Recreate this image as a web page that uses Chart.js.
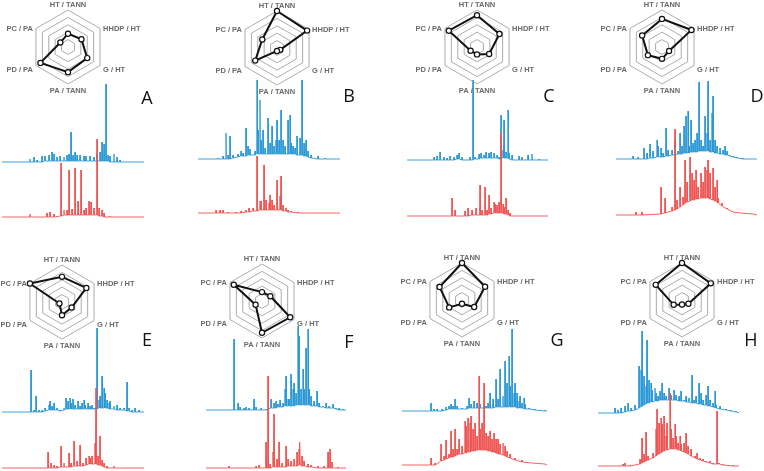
<!DOCTYPE html>
<html lang="en">
<head>
  <meta charset="UTF-8">
  <title>Radar plots and spectra A-H</title>
  <script src="https://cdn.jsdelivr.net/npm/chart.js"></script>
  <style>
    body { margin: 0; background: #fff; width: 764px; height: 471px; position: relative; overflow: hidden; }
    canvas { position: absolute; }
    .tag { position: absolute; font-family: "Open Sans", sans-serif; font-size: 18px; color: #111; line-height: 1; transform: translate(-50%, -50%); }
  </style>
</head>
<body>
<script>
// axes of the radar plots, clockwise from the top
const axisNames = ["HT / TANN", "HHDP / HT", "G / HT", "PA / TANN", "PD / PA", "PC / PA"];

// radar values (0-5), same order as axisNames
const radarA = [1.8, 2.1, 3.0, 3.4, 4.3, 1.2];
const radarB = [5.0, 4.7, 0.5, 0.4, 3.4, 2.3];
const radarC = [4.3, 3.5, 1.9, 1.0, 1.0, 4.4];
const radarD = [3.8, 4.6, 1.1, 1.6, 2.2, 3.1];
const radarE = [3.4, 3.8, 1.5, 1.8, 0.4, 5.0];
const radarF = [1.2, 1.3, 4.4, 4.3, 1.0, 4.4];
const radarG = [5.0, 3.6, 1.9, 0.5, 2.0, 3.5];
const radarH = [5.0, 4.5, 1.0, 0.6, 1.3, 4.1];

// spectra: [position, peak height, local baseline]
const blueA = [[0,0],[28,3],[32,5],[35,2],[40,6],[43,6,1],[47,7,1],[50,10,1],[52,8,1],[55,5,1],[58,6,1],[62,5,1],[65,7,1],[67,8,1],[69,30,1],[71,7,1],[73,10,1],[75,7,1],[78,7,1],[82,6,1],[84,6,1],[88,6,1],[92,5,1],[95,8,1],[98,10,1],[100,20,1],[102,18,1],[104,78,1],[106,7,1],[108,6],[112,8],[115,5],[118,2],[142,0]];
const redA = [[0,0],[28,3],[45,4],[48,5],[52,3],[59,54,1],[62,7,2],[65,7,2],[67,47,2],[70,8,2],[73,49,2],[76,16,2],[79,47,2],[82,7,2],[84,9,2],[87,16,2],[89,15,2],[92,9,2],[95,78,2],[97,9,1],[100,7,1],[102,4],[108,1],[142,0]];

const blueB = [[0,0],[20,1],[25,3],[28,26],[30,4],[32,23],[35,4,1],[40,5,2],[43,8,3],[45,6,3],[48,31,3],[50,13,4],[52,10,4],[57,8,4],[59,79,5],[60,29,5],[62,59,5],[63,19,5],[65,29,5],[67,11,5],[70,41,5],[72,16,5],[74,33,5],[76,13,5],[78,19,5],[79,39,5],[81,19,5],[83,49,5],[85,19,5],[87,13,5],[90,39,5],[92,44,5],[93,16,5],[95,13,5],[97,11,5],[99,23,4],[102,21,4],[104,79,4],[106,16,3],[108,19,3],[110,8,2],[113,4,1],[120,3],[127,1],[142,0]];
const redB = [[0,0],[18,3],[22,3],[25,3],[30,1],[38,1],[43,2],[48,3,1],[51,5,1],[55,5,2],[59,57,2],[62,12,3],[63,12,3],[66,48,3],[68,13,3],[71,10,3],[72,18,3],[74,13,3],[76,8,3],[79,33,3],[82,17,3],[83,37,3],[85,8,2],[88,5,2],[90,3,1],[93,2,1],[100,1],[142,0]];

const blueC = [[0,0],[27,3],[30,4],[33,8],[37,3],[40,2],[43,4],[47,3],[50,5,1],[52,7,1],[55,3],[63,3],[66,80],[68,3,1],[72,6,1],[74,7,2],[77,5,2],[79,8,2],[82,7,2],[84,8,2],[87,7,2],[90,5,2],[92,3,1],[94,45,1],[96,10,2],[97,40,2],[99,8,2],[101,50,2],[102,7,1],[105,5],[112,4],[115,3],[121,5],[125,6],[132,1],[141,0]];
const redC = [[0,0],[45,18],[48,6],[58,5],[61,8],[65,6,1],[69,8,1],[73,31,1],[75,6,1],[78,29,1],[80,6,1],[82,21,2],[84,8,2],[87,14,3],[88,12,3],[90,11,3],[92,14,3],[94,83,3],[96,12,3],[97,9,2],[99,18,2],[101,6,1],[103,3],[141,0]];

const blueD = [[0,0],[17,3],[22,2],[28,11],[31,6],[34,15,1],[37,8,1],[41,19,2],[42,13,2],[45,11,2],[47,6,2],[50,31,3],[52,9,3],[56,9,4],[59,19,4],[62,8,5],[64,26,5],[66,13,5],[68,33,6],[70,43,6],[72,48,6],[73,13,6],[75,39,7],[77,16,7],[79,19,7],[81,26,7],[83,77,8],[85,19,8],[87,13,8],[89,43,8],[91,26,8],[92,78,8],[94,19,7],[96,46,7],[97,63,7],[99,19,6],[101,13,6],[104,11,5],[107,9,5],[109,13,4],[111,8,4],[114,4,3],[117,3,2],[121,2,1],[127,1],[141,0]];
const redD = [[0,0],[20,3],[26,3],[45,28,1],[49,17,2],[56,8,4],[59,86,5],[61,15,6],[64,28,8],[67,18,10],[69,55,12],[71,33,13],[74,58,14],[76,42,15],[78,35,15],[80,45,16],[82,28,16],[85,42,17],[87,33,17],[89,48,17],[91,45,17],[92,55,17],[94,42,16],[97,47,15],[99,28,14],[101,35,13],[102,17,12],[106,12,9],[111,7,6],[117,3,3],[124,2,2],[137,1,1],[141,0]];

const blueE = [[0,0],[29,42],[32,2],[34,16],[37,2],[40,2],[43,4,1],[47,7,2],[48,11,2],[50,6,2],[52,9,2],[55,4,2],[58,2,1],[62,4,2],[64,14,3],[66,11,3],[68,14,3],[69,9,3],[71,13,3],[73,7,3],[76,11,3],[78,6,3],[80,9,3],[82,12,3],[83,7,3],[86,9,3],[88,6,3],[90,7,3],[92,4,3],[95,84,3],[97,12,4],[98,16,4],[100,36,4],[102,24,4],[103,19,4],[105,12,4],[107,9,3],[108,11,3],[112,6,3],[115,7,2],[118,4,2],[122,4,2],[125,30,1],[127,4,1],[130,2],[133,4],[137,2],[142,0]];
const redE = [[0,0],[46,16],[49,5],[52,3],[55,2],[59,22,1],[62,5,1],[67,15,1],[69,5,1],[72,27,2],[75,7,2],[78,23,2],[81,5,2],[84,10,3],[87,12,4],[88,10,4],[90,12,4],[93,25,4],[94,80,4],[96,12,3],[98,32,3],[100,8,2],[102,5,1],[105,2],[112,2],[142,0]];

const blueF = [[0,0],[28,71],[32,7],[34,3],[38,2],[40,3],[43,2],[48,11],[50,3],[55,2],[60,1],[65,11,2],[68,7,2],[70,9,2],[72,6,3],[74,10,3],[77,7,3],[79,21,4],[80,34,4],[82,11,4],[83,11,4],[85,36,4],[87,21,4],[88,27,4],[90,17,5],[92,84,5],[93,74,5],[95,21,5],[97,41,5],[98,21,5],[100,62,5],[102,81,5],[103,21,5],[105,14,4],[108,9,4],[111,19,4],[113,7,3],[117,4,3],[120,7,2],[123,4,2],[127,6,2],[130,2,1],[133,2],[137,1],[140,0]];
const redF = [[0,0],[23,2],[50,2],[53,3],[60,26],[62,92],[64,4],[67,16,1],[68,54,1],[71,9,1],[73,26,1],[76,5,1],[80,22,1],[82,9,2],[85,7,2],[88,9,2],[91,16,2],[93,19,3],[94,26,3],[96,12,2],[98,7,2],[102,4,1],[105,3,1],[112,2],[118,2],[122,16],[124,19],[126,6],[132,1],[140,0]];

const blueG = [[0,0],[29,8],[32,2],[35,2],[40,2],[44,4,1],[47,5,2],[49,7,2],[51,5,2],[53,12,2],[55,5,2],[60,3,2],[65,5,2],[67,13,3],[69,7,3],[72,10,3],[75,8,3],[78,7,3],[82,7,3],[84,5,3],[86,8,3],[88,18,3],[91,12,3],[94,32,4],[96,12,4],[98,42,4],[101,15,4],[103,50,4],[105,28,4],[107,55,4],[108,25,4],[110,82,4],[112,18,4],[113,28,4],[115,18,3],[117,10,3],[118,15,3],[120,8,3],[122,13,2],[123,7,2],[127,3,2],[133,2,1],[143,1],[145,0]];
const redG = [[0,0],[29,7],[33,2],[39,21,4],[42,9,5],[44,25,6],[47,11,7],[49,34,8],[51,16,8],[53,36,9],[55,16,10],[57,26,11],[60,19,11],[63,44,12],[64,39,12],[66,47,13],[68,42,13],[69,49,14],[71,36,14],[73,42,14],[75,29,15],[77,89,15],[78,36,15],[80,42,15],[82,82,15],[84,32,15],[86,29,14],[88,34,14],[90,26,13],[92,32,13],[94,26,12],[96,26,11],[98,21,11],[101,22,10],[103,19,9],[105,14,8],[108,11,7],[113,7,5],[120,5,3],[130,2,2],[143,1,1],[145,0]];

const blueH = [[0,0],[17,5],[20,3],[23,5],[27,7,1],[30,10,2],[33,5,2],[37,8,3],[41,47,5],[43,43,6],[44,82,7],[46,37,8],[48,27,9],[49,73,10],[51,33,10],[53,30,11],[54,23,11],[57,25,12],[58,20,12],[60,17,12],[62,22,13],[64,30,13],[66,20,13],[68,17,13],[71,25,13],[73,18,13],[76,23,13],[78,18,13],[81,17,12],[83,22,12],[86,13,12],[88,17,11],[91,15,11],[94,38,10],[96,13,10],[98,17,10],[101,30,9],[103,20,9],[105,13,8],[108,18,8],[110,27,7],[112,13,7],[115,10,6],[117,22,5],[118,8,5],[122,7,4],[128,4,3],[133,3,2],[138,2,1],[141,0]];
const redH = [[0,0],[25,2],[27,3],[32,1],[42,7,2],[44,28,3],[46,12,4],[48,34,5],[50,10,6],[55,13,8],[58,37,10],[59,57,11],[61,43,12],[63,48,13],[64,42,14],[66,50,15],[68,30,16],[69,43,16],[72,73,17],[73,37,17],[75,28,17],[77,42,17],[78,30,17],[80,23,16],[82,30,16],[83,22,15],[86,23,14],[88,33,13],[90,20,12],[93,17,10],[97,10,8],[99,13,7],[102,8,6],[105,7,5],[108,5,4],[112,5,3],[115,3,2],[119,55,2],[121,3,2],[125,2,1],[135,1],[141,0]];

// where each panel sits on the page
const panels = [
  { tag: "A", radar: radarA, blue: blueA, red: redA, cx: 68,  cy: 47,  sx: 2,   sw: 142, base: 217, shift: 55, tx: 147, ty: 97 },
  { tag: "B", radar: radarB, blue: blueB, red: redB, cx: 277, cy: 48,  sx: 198, sw: 142, base: 213, shift: 54, tx: 349, ty: 95 },
  { tag: "C", radar: radarC, blue: blueC, red: redC, cx: 477, cy: 47,  sx: 407, sw: 141, base: 216, shift: 56, tx: 549, ty: 95 },
  { tag: "D", radar: radarD, blue: blueD, red: redD, cx: 662, cy: 47,  sx: 616, sw: 141, base: 215, shift: 56, tx: 757, ty: 95 },
  { tag: "E", radar: radarE, blue: blueE, red: redE, cx: 62,  cy: 302, sx: 2,   sw: 142, base: 468, shift: 56, tx: 147, ty: 339 },
  { tag: "F", radar: radarF, blue: blueF, red: redF, cx: 262, cy: 301, sx: 206, sw: 140, base: 468, shift: 58, tx: 349, ty: 341 },
  { tag: "G", radar: radarG, blue: blueG, red: redG, cx: 462, cy: 300, sx: 402, sw: 145, base: 465, shift: 54, tx: 557, ty: 339 },
  { tag: "H", radar: radarH, blue: blueH, red: redH, cx: 682, cy: 300, sx: 598, sw: 141, base: 466, shift: 53, tx: 751, ty: 339 }
];

const R = 37;

// axis names drawn next to the hexagon corners
const axisLabels = {
  id: 'axisLabels',
  afterDraw(chart) {
    const scale = chart.scales.r;
    const ctx = chart.ctx;
    ctx.save();
    ctx.font = 'bold 7.5px "Liberation Sans", Arial, sans-serif';
    ctx.fillStyle = '#6a6a6a';
    axisNames.forEach((name, i) => {
      const v = scale.getPointPosition(i, scale.drawingArea);
      let x = v.x, y = v.y;
      ctx.textBaseline = 'middle';
      if (i === 0) { ctx.textAlign = 'center'; ctx.textBaseline = 'bottom'; y -= 1.5; }
      else if (i === 3) { ctx.textAlign = 'center'; ctx.textBaseline = 'top'; y += 3; }
      else if (i === 1) { ctx.textAlign = 'left'; x += 3; }
      else if (i === 2) { ctx.textAlign = 'left'; x += 3; y += 4; }
      else if (i === 4) { ctx.textAlign = 'right'; x -= 3; y += 4; }
      else { ctx.textAlign = 'right'; x -= 3; }
      ctx.fillText(name, x, y);
    });
    ctx.restore();
  }
};

function spikes(peaks, lift) {
  const pts = [];
  peaks.forEach(([x, top, foot = 0]) => {
    if (top <= foot) { pts.push({ x: x, y: foot + lift }); return; }
    pts.push({ x: x - 0.25, y: foot + lift }, { x: x, y: top + lift }, { x: x + 0.25, y: foot + lift });
  });
  return pts;
}

function addCanvas(left, top, w, h) {
  const c = document.createElement('canvas');
  c.width = w; c.height = h;
  c.style.left = left + 'px'; c.style.top = top + 'px';
  c.style.width = w + 'px'; c.style.height = h + 'px';
  document.body.appendChild(c);
  return c;
}

panels.forEach(p => {
  // spectra
  const sc = addCanvas(p.sx, p.base - 147, p.sw, 150);
  new Chart(sc, {
    type: 'line',
    data: {
      datasets: [
        { data: spikes(p.red, 0), borderColor: '#ef5350', borderWidth: 0.9, pointRadius: 0, tension: 0, clip: false },
        { data: spikes(p.blue, p.shift), borderColor: '#2a97d4', borderWidth: 0.9, pointRadius: 0, tension: 0, clip: false }
      ]
    },
    options: {
      responsive: false, animation: false, events: [],
      plugins: { legend: { display: false }, tooltip: { enabled: false } },
      scales: {
        x: { type: 'linear', display: false, min: 0, max: p.sw },
        y: { display: false, min: -3, max: 147 }
      }
    }
  });

  // radar
  const rc = addCanvas(p.cx - 80, p.cy - 55, 160, 110);
  new Chart(rc, {
    type: 'radar',
    data: {
      labels: axisNames,
      datasets: [{
        data: p.radar, borderColor: '#111', borderWidth: 2, backgroundColor: 'transparent', fill: false,
        pointRadius: 2.6, pointBackgroundColor: '#fff', pointBorderColor: '#111', pointBorderWidth: 1.2
      }]
    },
    options: {
      responsive: false, animation: false, events: [],
      layout: { padding: { left: 80 - R, right: 80 - R, top: 55 - R, bottom: 55 - R } },
      plugins: { legend: { display: false }, tooltip: { enabled: false } },
      scales: {
        r: {
          min: 0, max: 5,
          ticks: { display: false, stepSize: 1 },
          grid: { color: '#a3a3a3', lineWidth: 0.9 },
          angleLines: { display: false },
          pointLabels: { display: false }
        }
      }
    },
    plugins: [axisLabels]
  });

  const t = document.createElement('div');
  t.className = 'tag';
  t.textContent = p.tag;
  t.style.left = p.tx + 'px';
  t.style.top = p.ty + 'px';
  document.body.appendChild(t);
});
</script>
</body>
</html>
